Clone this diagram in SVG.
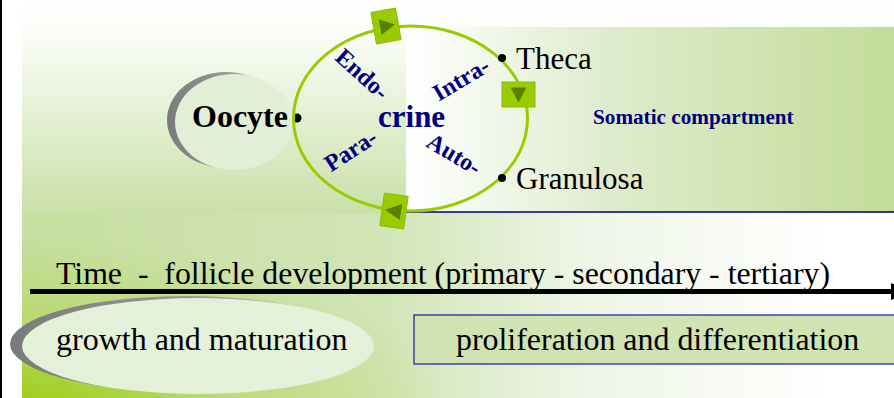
<svg xmlns="http://www.w3.org/2000/svg" width="894" height="398" viewBox="0 0 894 398">
<defs>
<linearGradient id="gTop" x1="0" y1="0" x2="0" y2="1"><stop offset="0" stop-color="#ffffff"/><stop offset="0.15" stop-color="#fbfdf8"/><stop offset="1" stop-color="#cae0a8"/></linearGradient>
<linearGradient id="gPanel" x1="0" y1="0" x2="1" y2="0"><stop offset="0" stop-color="#ffffff"/><stop offset="0.4" stop-color="#dfecce"/><stop offset="1" stop-color="#c3dc98"/></linearGradient>
<linearGradient id="gBot" gradientUnits="userSpaceOnUse" x1="22" y1="0" x2="830" y2="0"><stop offset="0" stop-color="#c6de9f"/><stop offset="0.45" stop-color="#d2e5b7"/><stop offset="0.7" stop-color="#eef5e6"/><stop offset="1" stop-color="#ffffff"/></linearGradient>
<radialGradient id="gGlow" gradientUnits="userSpaceOnUse" cx="22" cy="410" r="430" gradientTransform="translate(22,410) scale(1,0.4) translate(-22,-410)"><stop offset="0" stop-color="#99cc00" stop-opacity="0.9"/><stop offset="0.5" stop-color="#99cc00" stop-opacity="0.3"/><stop offset="1" stop-color="#99cc00" stop-opacity="0"/></radialGradient>
<linearGradient id="gShadow" x1="0" y1="0" x2="1" y2="0"><stop offset="0" stop-color="#7a7a7a"/><stop offset="1" stop-color="#b5b5b5"/></linearGradient>
<style>
.serif{font-family:"Liberation Serif","Times New Roman",serif;}
.b{font-weight:bold;}
.navy{fill:#000080;}
.blk{fill:#000000;}
.sq{fill:#99cc00;stroke:#8bbd00;stroke-width:1;}
.tri{fill:#5a8000;}
</style>
</defs>
<!-- background -->
<rect x="0" y="0" width="894" height="398" fill="#ffffff"/>
<rect x="0" y="0" width="2" height="398" fill="#000000"/>
<rect x="22" y="0" width="872" height="213" fill="url(#gTop)"/>
<rect x="406" y="0" width="488" height="27" fill="#fdfefb"/>
<rect x="406" y="27" width="488" height="185" fill="url(#gPanel)"/>
<line x1="406" y1="212" x2="894" y2="212" stroke="#000080" stroke-width="1.5"/>
<rect x="22" y="213" width="872" height="185" fill="url(#gBot)"/>
<rect x="22" y="213" width="872" height="185" fill="url(#gGlow)"/>

<g id="oocyte">
<ellipse cx="226" cy="120" rx="59" ry="48" fill="url(#gShadow)"/>
<ellipse cx="234" cy="122" rx="59" ry="48" fill="#e2eed6"/>
<text x="192" y="127" class="serif b blk" font-size="32">Oocyte</text>
<circle cx="297" cy="118" r="4.5" fill="#000"/>
</g>

<g id="cycle">
<ellipse cx="410.5" cy="118.5" rx="117" ry="92.5" fill="none" stroke="#99cc00" stroke-width="3"/>
<text x="378" y="127" class="serif b navy" font-size="31">crine</text>
<text transform="translate(357,80) rotate(42)" text-anchor="middle" class="serif b navy" font-size="24">Endo-</text>
<text transform="translate(465,86) rotate(-31)" text-anchor="middle" class="serif b navy" font-size="24">Intra-</text>
<text transform="translate(355,157) rotate(-33)" text-anchor="middle" class="serif b navy" font-size="24">Para-</text>
<text transform="translate(450,161) rotate(31)" text-anchor="middle" class="serif b navy" font-size="24">Auto-</text>
</g>

<g id="connectors">
<g transform="translate(386,26) rotate(-10)"><rect x="-12.5" y="-16" width="25" height="32" class="sq"/><polygon points="-6,-8 9,0 -6,8" class="tri"/></g>
<g transform="translate(518.5,94.5)"><rect x="-16.5" y="-12.5" width="33" height="25" class="sq"/><polygon points="-8,-7 8,-7 0,8" class="tri"/></g>
<g transform="translate(394,211) rotate(8)"><rect x="-12" y="-16.5" width="24" height="33" class="sq"/><polygon points="7,-8 -9,0 7,8" class="tri"/></g>
</g>

<g id="theca">
<circle cx="502" cy="58" r="4" fill="#000"/>
<text x="516" y="69" class="serif blk" font-size="31">Theca</text>
</g>
<g id="granulosa">
<circle cx="502" cy="178" r="4" fill="#000"/>
<text x="516" y="189" class="serif blk" font-size="31">Granulosa</text>
</g>
<g id="somatic">
<text x="593" y="124" class="serif b navy" font-size="21.2">Somatic compartment</text>
</g>

<g id="timeline">
<line x1="30" y1="291.5" x2="893" y2="291.5" stroke="#000" stroke-width="5"/>
<polygon points="891,283 912,291.5 891,300" fill="#000"/>
<text x="56" y="284" class="serif blk" font-size="31.8" xml:space="preserve">Time  -  follicle development (primary - secondary - tertiary)</text>
</g>

<g id="growth">
<ellipse cx="186" cy="344" rx="176" ry="48" fill="url(#gShadow)"/>
<ellipse cx="198" cy="346" rx="176" ry="48" fill="#e5f0d9"/>
<text x="56" y="350" class="serif blk" font-size="32">growth and maturation</text>
</g>

<g id="proliferation">
<rect x="414" y="315" width="490" height="49" fill="#d0e4b3" stroke="#1a1aa0" stroke-width="1.2"/>
<text x="456" y="350" class="serif blk" font-size="31.9">proliferation and differentiation</text>
</g>
</svg>
